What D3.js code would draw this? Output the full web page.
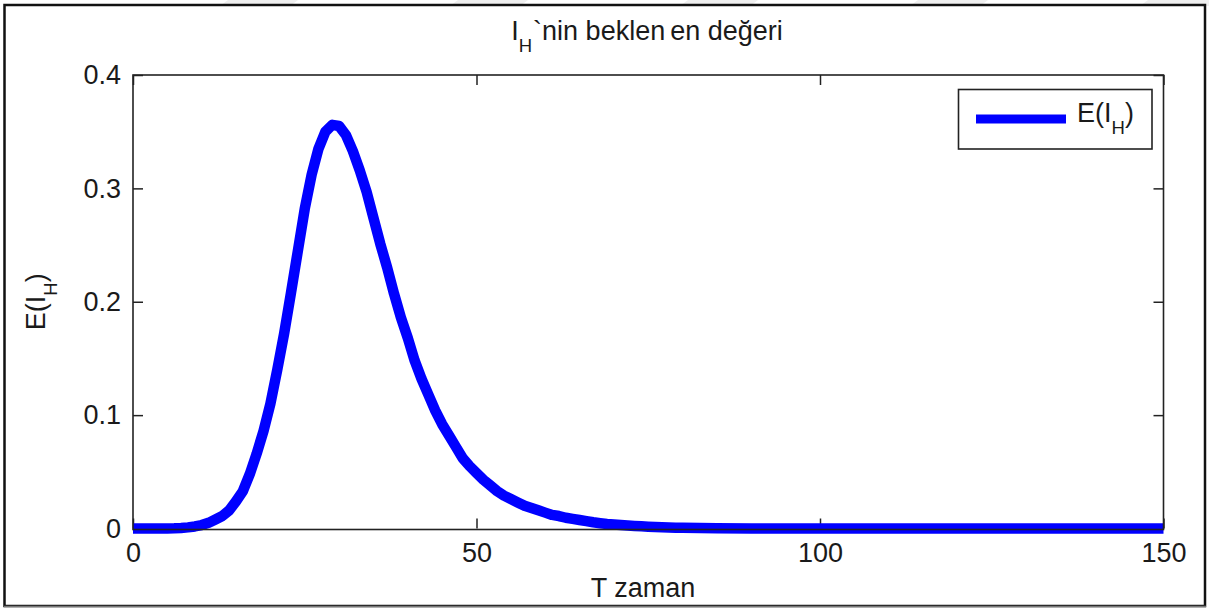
<!DOCTYPE html>
<html>
<head>
<meta charset="utf-8">
<script src="https://cdn.jsdelivr.net/npm/d3@7"></script>
<style>
  html, body { margin: 0; padding: 0; background: #fff; }
  svg { display: block; }
  text { font-family: "Liberation Sans", Arial, Helvetica, sans-serif; fill: #1a1a1a; }
</style>
</head>
<body>
<svg id="chart" width="1209" height="608"></svg>
<script>
// Time points (T) and expected value E(I_H)
const timeT = [
  0, 1, 2, 3, 4, 5, 6, 7, 8, 9,
  10, 11, 12, 13, 14, 15, 16, 17, 18, 19,
  20, 21, 22, 23, 24, 25, 26, 27, 28, 29,
  30, 31, 32, 33, 34, 35, 36, 37, 38, 39,
  40, 41, 42, 43, 44, 45, 46, 47, 48, 49,
  50, 51, 52, 53, 54, 55, 56, 57, 58, 59,
  60, 61, 62, 63, 64, 65, 66, 67, 68, 69,
  70, 71, 72, 73, 74, 75, 76, 77, 78, 79,
  80, 85, 90, 100, 110, 120, 130, 140, 150
];
const expectedIH = [
  0, 0, 0, 0, 0, 0.0001, 0.0002, 0.0005, 0.001, 0.0018,
  0.003, 0.005, 0.008, 0.011, 0.016, 0.024, 0.033, 0.048, 0.066, 0.086,
  0.110, 0.140, 0.172, 0.208, 0.245, 0.282, 0.312, 0.335, 0.350, 0.356,
  0.355, 0.347, 0.333, 0.316, 0.297, 0.274, 0.251, 0.230, 0.207, 0.186,
  0.168, 0.148, 0.132, 0.118, 0.104, 0.092, 0.082, 0.072, 0.062, 0.055,
  0.049, 0.043, 0.038, 0.033, 0.029, 0.026, 0.023, 0.020, 0.018, 0.016,
  0.014, 0.012, 0.011, 0.0095, 0.0085, 0.0075, 0.0065, 0.0055, 0.0047, 0.004,
  0.0035, 0.003, 0.0026, 0.0022, 0.0019, 0.0016, 0.0013, 0.0011, 0.0009, 0.0007,
  0.0006, 0.0002, 0.0001, 0, 0, 0, 0, 0, 0
];
const xTicks = [0, 50, 100, 150];
const yTicks = [0, 0.1, 0.2, 0.3, 0.4];
const yTickLabels = ["0", "0.1", "0.2", "0.3", "0.4"];

const svg = d3.select("#chart");
const plot = { left: 133, right: 1163.5, top: 75, bottom: 528.5 };
const FS = 27;
const SUB = 18.5;

// faint diagonal bands along the very top edge
const bandStarts = [228, 458, 688, 918, 1148];
svg.append("g").selectAll("polygon").data(bandStarts).join("polygon")
  .attr("points", d => `${d},0 ${d + 70},0 ${d + 62},6 ${d - 8},6`)
  .attr("fill", "#efefef");

// outer figure frame
svg.append("rect").attr("x", 4.5).attr("y", 5).attr("width", 1200.5).attr("height", 601)
  .attr("fill", "#fff").attr("stroke", "#111").attr("stroke-width", 2.5);
svg.append("line").attr("x1", 4).attr("x2", 1206).attr("y1", 606.5).attr("y2", 606.5)
  .attr("stroke", "#777").attr("stroke-width", 1.5);

const x = d3.scaleLinear().domain([0, 150]).range([plot.left, plot.right]);
const y = d3.scaleLinear().domain([0, 0.4]).range([plot.bottom, plot.top]);

// axes with inward ticks on all four sides
const tickLen = -10;
const gx = svg.append("g").attr("transform", `translate(0,${plot.bottom})`)
  .call(d3.axisBottom(x).tickValues(xTicks).tickFormat(d3.format("d"))
    .tickSizeInner(tickLen).tickSizeOuter(0).tickPadding(14));
const gy = svg.append("g").attr("transform", `translate(${plot.left},0)`)
  .call(d3.axisLeft(y).tickValues(yTicks).tickFormat((d, i) => yTickLabels[i])
    .tickSizeInner(tickLen).tickSizeOuter(0).tickPadding(12));
const gt = svg.append("g").attr("transform", `translate(0,${plot.top})`)
  .call(d3.axisTop(x).tickValues(xTicks).tickFormat("").tickSizeInner(tickLen).tickSizeOuter(0));
const gr = svg.append("g").attr("transform", `translate(${plot.right},0)`)
  .call(d3.axisRight(y).tickValues(yTicks).tickFormat("").tickSizeInner(tickLen).tickSizeOuter(0));

[gx, gy, gt, gr].forEach(g => {
  g.select(".domain").remove();
  g.selectAll(".tick line").attr("stroke", "#222").attr("stroke-width", 1.5);
  g.selectAll(".tick text").attr("font-size", FS).attr("fill", "#1a1a1a")
    .attr("font-family", "'Liberation Sans', Arial, sans-serif");
});

// the curve
const line = d3.line().x((d, i) => x(timeT[i])).y(d => y(d));
svg.append("path").datum(expectedIH)
  .attr("d", line)
  .attr("fill", "none").attr("stroke", "#0000ff").attr("stroke-width", 10.5)
  .attr("stroke-linejoin", "round").attr("stroke-linecap", "butt");

// axes box
svg.append("rect").attr("x", plot.left).attr("y", plot.top)
  .attr("width", plot.right - plot.left).attr("height", plot.bottom - plot.top + 1)
  .attr("fill", "none").attr("stroke", "#222").attr("stroke-width", 1.6);

// title with subscript
const title = svg.append("text").attr("x", 647).attr("y", 40)
  .attr("text-anchor", "middle").attr("font-size", FS);
title.append("tspan").text("I");
title.append("tspan").attr("font-size", SUB).attr("dy", 12).text("H");
title.append("tspan").attr("dy", -12).attr("dx", 1).text("`nin beklen");
title.append("tspan").attr("dx", 5).text("en değeri");

// x axis label
svg.append("text").attr("x", 643).attr("y", 597).attr("text-anchor", "middle")
  .attr("font-size", FS).text("T zaman");

// y axis label
const yl = svg.append("text").attr("transform", `translate(45,${(plot.top + plot.bottom) / 2}) rotate(-90)`)
  .attr("text-anchor", "middle").attr("font-size", FS);
yl.append("tspan").text("E(I");
yl.append("tspan").attr("font-size", SUB).attr("dy", 12).text("H");
yl.append("tspan").attr("dy", -12).text(")");

// legend
const lg = svg.append("g");
lg.append("rect").attr("x", 958.5).attr("y", 89.5).attr("width", 193.5).attr("height", 59.5)
  .attr("fill", "#fff").attr("stroke", "#222").attr("stroke-width", 1.6);
lg.append("line").attr("x1", 976).attr("x2", 1066).attr("y1", 119).attr("y2", 119)
  .attr("stroke", "#0000ff").attr("stroke-width", 9);
const lt = lg.append("text").attr("x", 1077).attr("y", 122).attr("font-size", FS);
lt.append("tspan").text("E(I");
lt.append("tspan").attr("font-size", SUB).attr("dy", 12).text("H");
lt.append("tspan").attr("dy", -12).text(")");
</script>
</body>
</html>
